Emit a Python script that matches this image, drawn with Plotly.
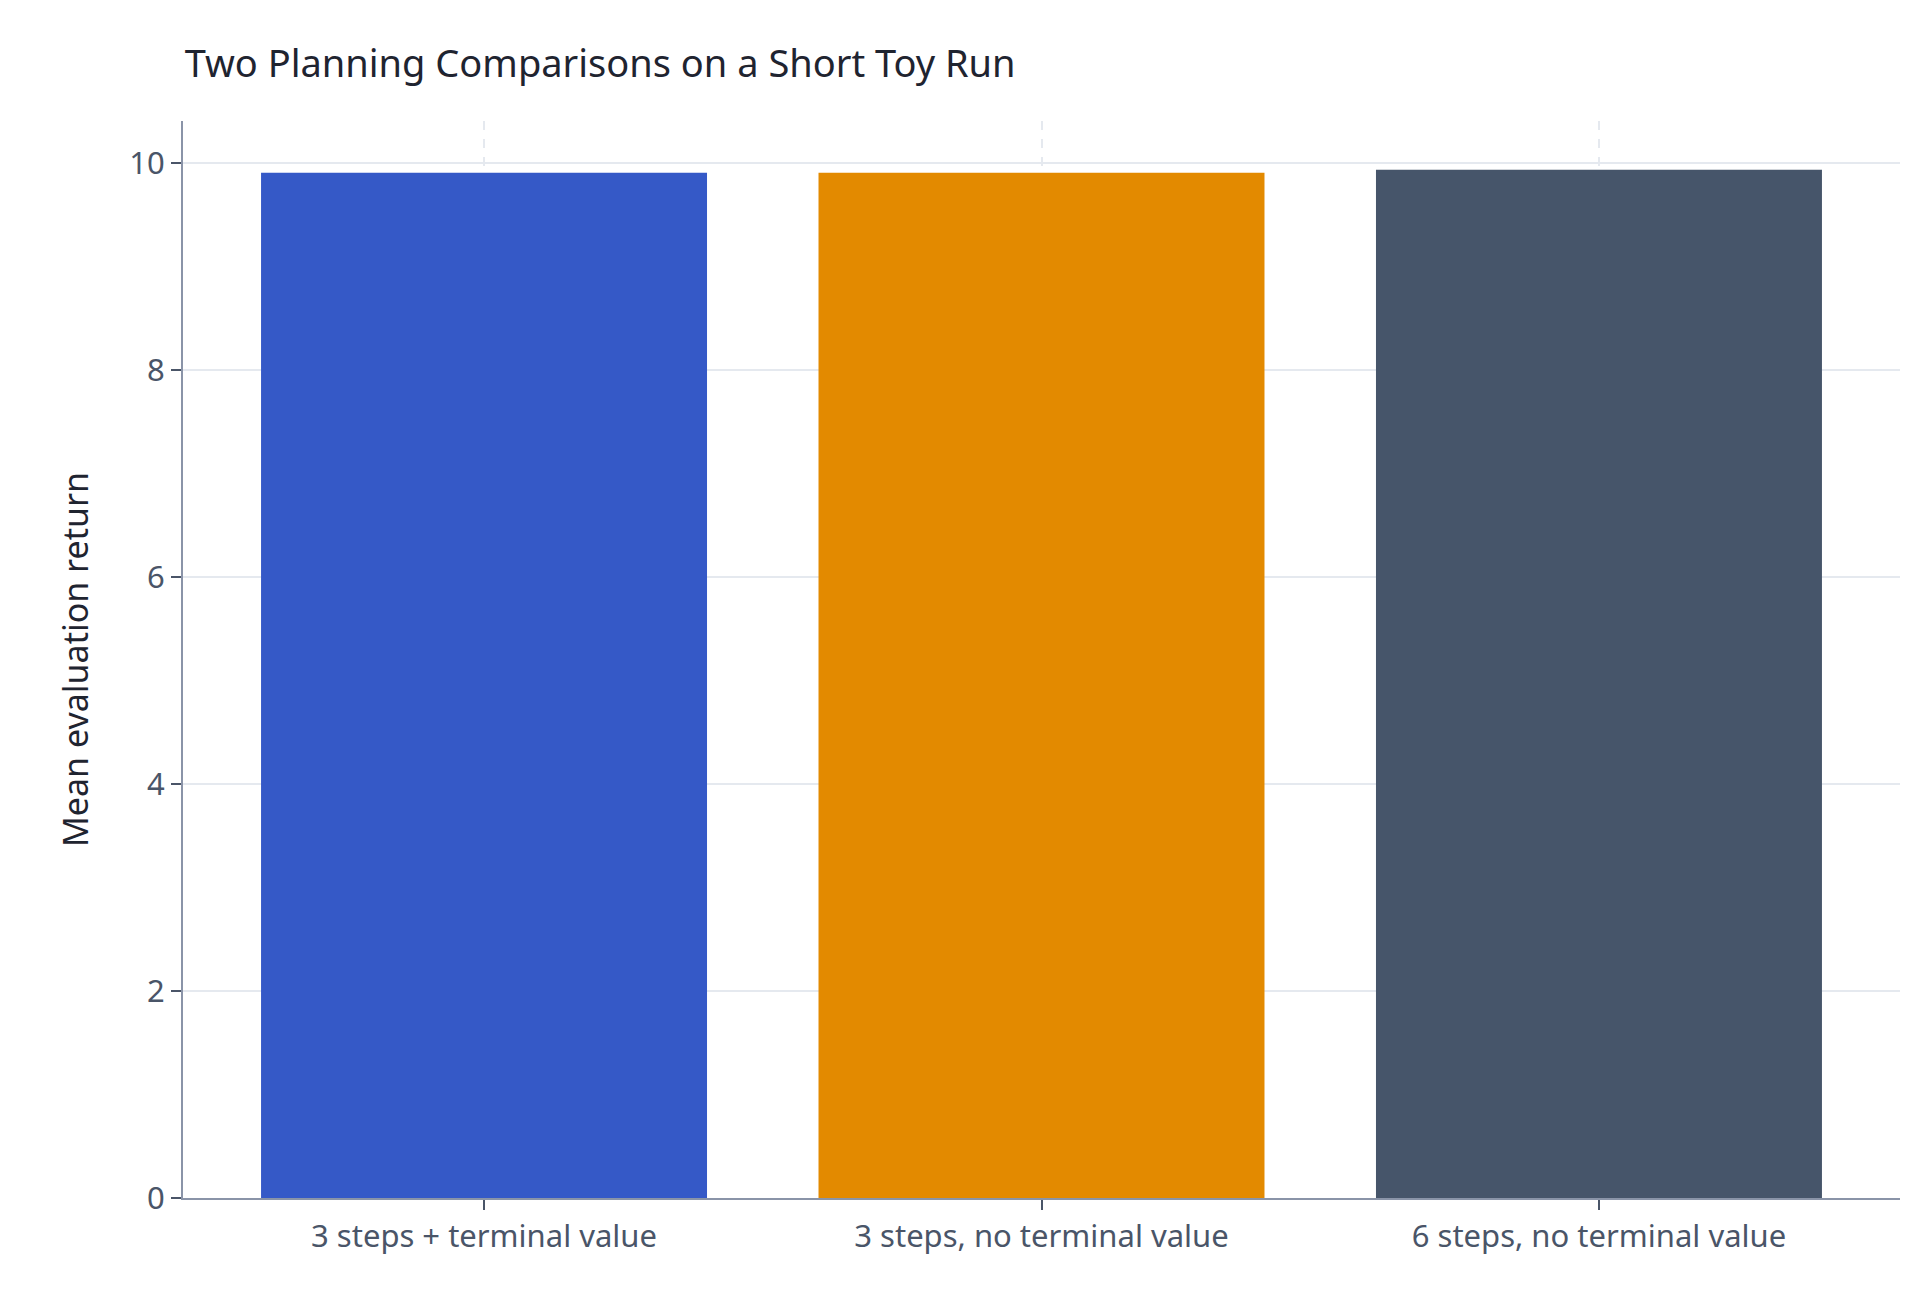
import plotly.graph_objects as go

categories = ["3 steps + terminal value", "3 steps, no terminal value", "6 steps, no terminal value"]
values = [9.91, 9.91, 9.94]
colors = ["#3559c7", "#e38a00", "#46556a"]
y_ticks = [0, 2, 4, 6, 8, 10]

fig = go.Figure(go.Bar(x=categories, y=values, marker_color=colors, marker_line_width=0, width=0.8))
font = "Noto Sans, DejaVu Sans, sans-serif"
fig.update_layout(
    width=1920, height=1292, plot_bgcolor="white", paper_bgcolor="white",
    margin=dict(l=175, r=28, t=113, b=102),
    title=dict(text="Two Planning Comparisons on a Short Toy Run", x=0.092, xanchor="left", y=0.967,
               font=dict(family=font, size=38, color="#1f2430")),
    font=dict(family=font, color="#4a5568"),
    showlegend=False,
)
fig.update_xaxes(range=[-0.54, 2.54], showline=True, linecolor="#8a94a8", linewidth=2,
                 ticks="outside", ticklen=10, tickcolor="#4a5568", tickwidth=2,
                 showgrid=True, gridcolor="#e5e9ef", griddash="dash", gridwidth=2,
                 tickfont=dict(size=31, color="#4a5568"))
fig.update_yaxes(range=[0, 10.41], tickvals=y_ticks, showline=True, linecolor="#8a94a8", linewidth=2,
                 ticks="outside", ticklen=10, tickcolor="#4a5568", tickwidth=2,
                 showgrid=True, gridcolor="#e5e9ef", gridwidth=2, zeroline=False,
                 tickfont=dict(size=31, color="#4a5568"),
                 title=dict(text="Mean evaluation return", font=dict(size=34, color="#1f2430"), standoff=30))
fig.write_html("out.html")
